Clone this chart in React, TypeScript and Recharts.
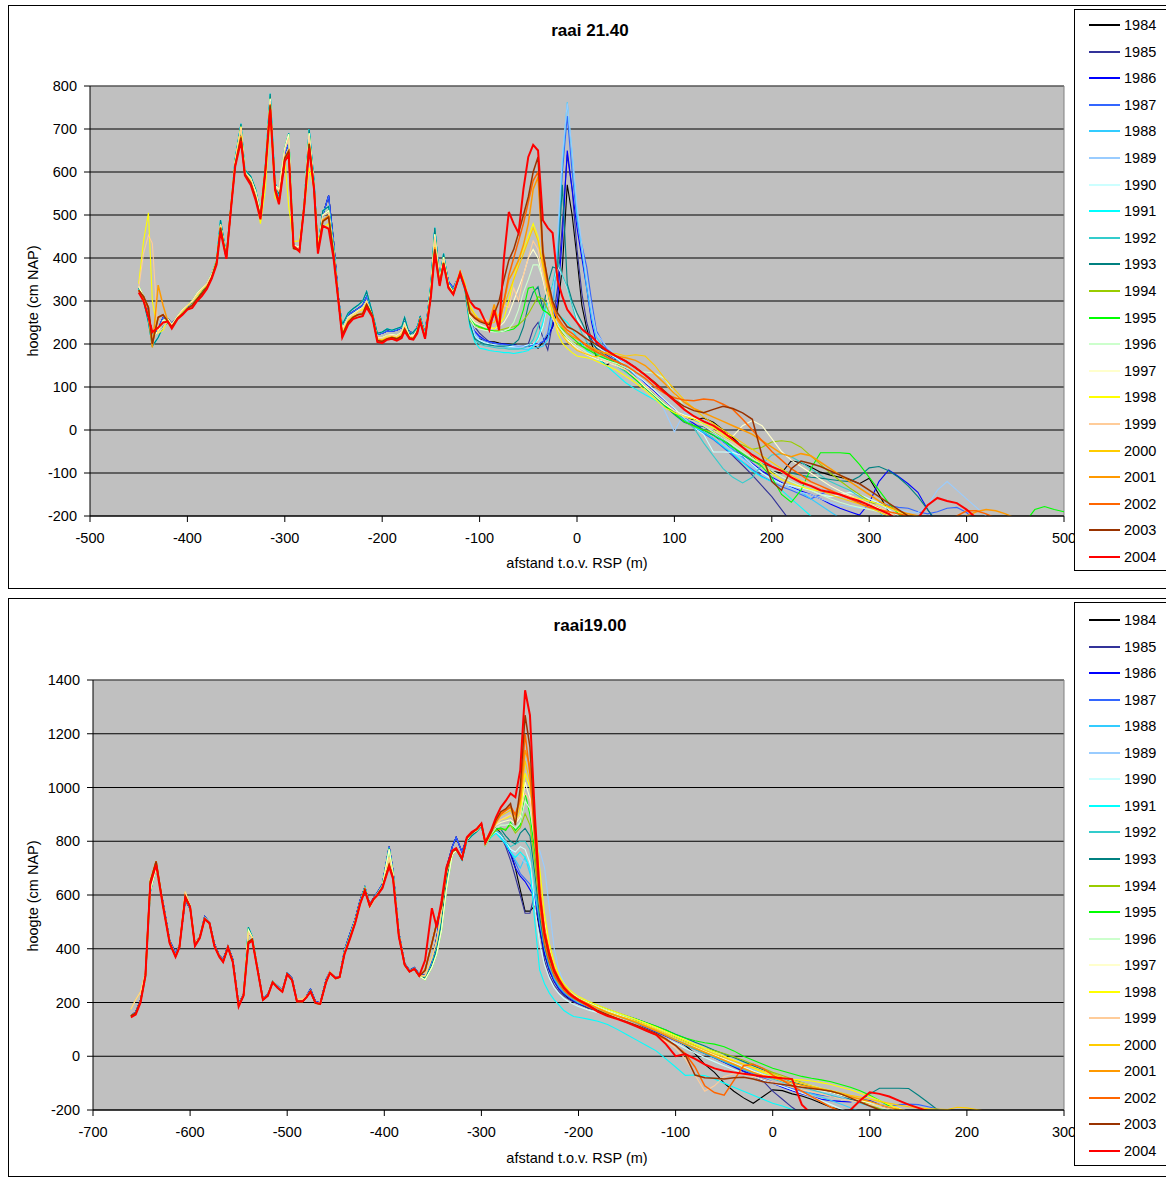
import React from 'react';
import { LineChart, Line, XAxis, YAxis, CartesianGrid, ReferenceLine } from 'recharts';

// Survey years and their line colours
const years = [1984, 1985, 1986, 1987, 1988, 1989, 1990, 1991, 1992, 1993, 1994, 1995, 1996, 1997, 1998, 1999, 2000, 2001, 2002, 2003, 2004];
const colors = ['#000000', '#333399', '#0000FF', '#3366FF', '#33CCFF', '#99CCFF', '#CCFFFF', '#00FFFF', '#33CCCC', '#008080', '#99CC00', '#00FF00', '#CCFFCC', '#FFFFCC', '#FFFF00', '#FFCC99', '#FFCC00', '#FF9900', '#FF6600', '#993300', '#FF0000'];

// ---------- raai 21.40 ----------
const topTicksX = [-500, -400, -300, -200, -100, 0, 100, 200, 300, 400, 500];
const topTicksY = [-200, -100, 0, 100, 200, 300, 400, 500, 600, 700, 800];

const topDuneX = [-450, -445, -440, -436, -430, -425, -420, -416, -410, -405, -400, -395, -390, -385, -380, -375, -370, -366, -360, -355, -351, -345, -341, -335, -330, -325, -320, -315, -310, -306, -300, -296, -291, -285, -280, -275, -270, -266, -261, -255, -250, -245, -241, -235, -230, -225, -220, -216, -210, -205, -200, -195, -190, -185, -180, -177, -172, -168, -164, -161, -156, -150, -146, -141, -137, -132, -127];
const topBeachX = [-120, -115, -110, -105, -100, -95, -90, -85, -80, -75, -70, -65, -60, -55, -50, -45, -40, -35, -30, -25, -20, -15, -10, -5, 0, 5, 10, 15, 20, 30, 40, 50, 60, 70, 80, 90, 100, 110, 120, 130, 140, 150, 160, 170, 180, 190, 200, 210, 220, 230, 240, 250, 260, 270, 280, 290, 300, 310, 320, 330, 340, 350, 360, 370, 380, 390, 400, 410, 420, 430, 440, 450, 460, 470, 480, 490, 500];

// dune part (shared by groups of years)
const topDuneA = [325, 310, 270, 222, 235, 262, 258, 248, 262, 272, 285, 290, 302, 318, 335, 360, 392, 480, 405, 528, 625, 700, 598, 578, 552, 500, 610, 770, 570, 540, 645, 665, 432, 418, 530, 690, 575, 420, 500, 545, 440, 310, 240, 268, 275, 282, 290, 310, 268, 222, 225, 230, 230, 232, 238, 250, 228, 226, 240, 262, 225, 335, 468, 350, 405, 345, 330];
const topDuneB = [330, 300, 250, 195, 215, 240, 250, 240, 262, 275, 290, 295, 305, 322, 338, 362, 395, 488, 408, 530, 630, 712, 605, 590, 560, 505, 615, 782, 575, 548, 655, 690, 425, 420, 528, 700, 580, 425, 510, 520, 430, 305, 245, 272, 282, 290, 300, 322, 272, 225, 228, 235, 232, 236, 240, 262, 222, 228, 238, 265, 220, 340, 470, 350, 410, 340, 325];
const topDuneC = [335, 310, 260, 215, 230, 255, 258, 245, 265, 280, 290, 300, 318, 330, 340, 362, 392, 478, 405, 530, 625, 705, 600, 585, 555, 505, 612, 770, 568, 560, 655, 688, 430, 425, 530, 690, 570, 420, 500, 510, 420, 300, 235, 262, 270, 278, 285, 300, 265, 215, 215, 220, 222, 220, 228, 248, 218, 220, 232, 258, 218, 330, 455, 345, 402, 338, 320];
const topDuneD = [340, 440, 505, 300, 225, 232, 255, 240, 262, 275, 288, 298, 312, 326, 338, 358, 395, 475, 402, 528, 620, 705, 598, 580, 545, 480, 560, 730, 540, 530, 630, 520, 438, 440, 515, 610, 560, 440, 470, 480, 410, 305, 228, 255, 265, 275, 280, 300, 262, 212, 210, 218, 218, 215, 225, 240, 215, 215, 228, 255, 215, 318, 440, 340, 395, 335, 318];
const topDuneP = [330, 411, 453, 434, 225, 238, 256, 244, 264, 278, 290, 298, 315, 328, 340, 360, 392, 478, 404, 530, 624, 704, 600, 583, 550, 500, 610, 765, 566, 555, 650, 680, 430, 422, 528, 685, 568, 420, 498, 505, 418, 302, 232, 260, 268, 276, 284, 300, 264, 214, 214, 219, 220, 218, 226, 245, 216, 218, 230, 256, 216, 326, 450, 342, 398, 336, 318];
const topDuneE = [325, 310, 285, 200, 262, 268, 252, 240, 260, 270, 282, 290, 305, 318, 332, 355, 390, 470, 400, 522, 615, 680, 595, 575, 540, 495, 605, 755, 562, 530, 632, 648, 422, 418, 522, 665, 562, 415, 485, 495, 410, 302, 220, 250, 262, 268, 270, 292, 265, 208, 206, 212, 215, 212, 218, 235, 214, 212, 228, 255, 214, 315, 420, 338, 388, 332, 316];
const topDuneO = [325, 305, 265, 192, 337, 290, 252, 240, 260, 270, 282, 290, 305, 318, 332, 355, 390, 472, 400, 524, 616, 684, 596, 576, 542, 496, 606, 758, 563, 532, 634, 650, 424, 418, 524, 668, 564, 416, 488, 498, 412, 303, 222, 252, 262, 268, 272, 292, 266, 210, 208, 213, 216, 213, 219, 236, 215, 213, 229, 256, 215, 316, 425, 340, 390, 333, 317];
const topDuneF = [320, 300, 262, 228, 238, 250, 252, 236, 258, 268, 280, 284, 300, 312, 328, 352, 385, 462, 398, 520, 612, 672, 592, 570, 535, 490, 600, 745, 558, 525, 625, 640, 428, 415, 520, 655, 560, 410, 475, 468, 400, 300, 215, 245, 258, 262, 265, 285, 262, 205, 202, 210, 212, 208, 214, 230, 212, 210, 225, 252, 212, 310, 410, 335, 385, 330, 315];

// foredune, beach and foreshore per year
const t1984 = [365, 330, 250, 215, 212, 208, 205, 205, 202, 200, 200, 198, 196, 195, 195, 198, 190, 205, 220, 240, 280, 380, 570, 500, 400, 290, 235, 200, 170, 150, 165, 148, 125, 105, 82, 62, 42, 28, 24, 28, 18, 0, -18, -40, -62, -80, -96, -100, -72, -76, -86, -98, -105, -110, -115, -125, -112, -150, -190, -230];
const t1985 = [360, 325, 245, 240, 225, 215, 205, 203, 200, 200, 198, 196, 195, 195, 200, 235, 250, 215, 186, 250, 330, 480, 640, 560, 420, 318, 250, 210, 190, 175, 160, 142, 122, 100, 80, 62, 45, 25, 10, -5, -20, -40, -60, -82, -105, -130, -155, -185, -215];
const t1986 = [360, 330, 250, 230, 218, 210, 205, 202, 200, 200, 198, 198, 196, 195, 196, 200, 200, 205, 215, 240, 300, 450, 650, 560, 470, 400, 330, 250, 200, 180, 165, 150, 130, 108, 88, 68, 48, 30, 15, 0, -12, -28, -45, -62, -78, -95, -110, -122, -133, -142, -150, -160, -172, -182, -190, -198, -170, -120, -93, -108, -125, -145, -185, -220];
const t1987 = [362, 332, 255, 225, 215, 208, 204, 202, 200, 198, 198, 196, 195, 194, 195, 198, 200, 205, 225, 290, 420, 600, 730, 600, 488, 430, 379, 300, 230, 190, 170, 150, 128, 106, 85, 65, 45, 22, 5, -8, -22, -40, -58, -75, -92, -108, -120, -132, -140, -150, -160, -150, -140, -150, -160, -168, -172, -168, -175, -180, -182, -190, -195, -190, -182, -180, -192, -215];
const t1988 = [368, 335, 255, 220, 205, 200, 198, 196, 195, 193, 192, 190, 190, 188, 188, 190, 192, 195, 210, 270, 420, 620, 762, 640, 500, 420, 330, 260, 215, 185, 165, 148, 126, 104, 84, 62, 40, 25, 20, 15, -5, -25, -45, -65, -85, -100, -115, -125, -135, -145, -160, -175, -190, -205];
const t1989 = [370, 338, 258, 225, 210, 205, 200, 198, 197, 195, 194, 192, 192, 190, 190, 195, 200, 215, 250, 310, 450, 640, 760, 650, 520, 430, 350, 280, 225, 195, 175, 152, 128, 105, 85, 45, -4, 40, 30, 15, -5, -30, -50, -68, -85, -100, -112, -125, -135, -145, -150, -160, -168, -175, -178, -182, -178, -175, -180, -185, -190, -192, -175, -140, -120, -140, -160, -180, -200, -220];
const t1990 = [365, 330, 250, 218, 208, 203, 200, 198, 196, 195, 194, 195, 196, 195, 198, 200, 210, 240, 300, 340, 380, 360, 330, 290, 260, 240, 220, 205, 195, 180, 168, 150, 130, 112, 92, 70, 50, 28, 5, -10, -51, -51, -52, -60, -80, -100, -115, -125, -130, -135, -140, -150, -155, -150, -145, -150, -160, -170, -185, -200, -215];
const t1991 = [360, 325, 240, 205, 190, 188, 185, 183, 182, 180, 180, 178, 180, 182, 185, 195, 215, 250, 300, 285, 270, 260, 250, 235, 215, 200, 185, 175, 168, 150, 130, 110, 95, 82, 70, 55, 38, 22, 8, -5, -20, -38, -55, -75, -95, -110, -120, -140, -160, -180, -200, -220];
const t1992 = [362, 328, 245, 210, 200, 196, 194, 192, 190, 190, 188, 188, 188, 190, 195, 210, 240, 270, 300, 340, 395, 360, 333, 290, 250, 225, 205, 190, 178, 165, 150, 135, 118, 100, 80, 62, 45, 25, 5, -30, -60, -90, -110, -123, -110, -80, -58, -55, -62, -75, -90, -105, -120, -130, -140, -155, -170, -190, -215];
const t1993 = [365, 330, 248, 212, 205, 200, 198, 196, 195, 195, 196, 200, 210, 240, 290, 320, 333, 280, 340, 379, 375, 570, 340, 300, 272, 250, 225, 205, 190, 170, 155, 138, 118, 98, 78, 56, 36, 18, 10, 8, -5, -20, -40, -58, -72, -80, -85, -95, -100, -105, -110, -112, -115, -118, -120, -108, -88, -85, -95, -110, -130, -155, -185, -215];
const t1994 = [365, 330, 255, 240, 238, 235, 232, 230, 232, 235, 238, 240, 245, 255, 270, 290, 310, 305, 280, 260, 240, 225, 212, 205, 200, 195, 190, 185, 180, 170, 158, 140, 120, 100, 80, 60, 40, 20, 8, 0, -5, -15, -25, -35, -45, -40, -28, -25, -28, -40, -60, -80, -100, -118, -135, -150, -165, -180, -195, -215];
const t1995 = [368, 335, 260, 245, 240, 236, 232, 230, 228, 230, 232, 235, 245, 280, 330, 333, 302, 279, 272, 260, 245, 235, 225, 215, 205, 195, 188, 182, 175, 165, 155, 138, 118, 98, 78, 58, 38, 20, 10, 0, -12, -25, -40, -55, -70, -85, -110, -150, -168, -140, -90, -53, -53, -53, -55, -80, -110, -140, -170, -195, -215, -215, -215, -215, -215, -215, -215, -215, -215, -215, -215, -215, -215, -185, -178, -185, -190];
const t1996 = [368, 335, 260, 240, 235, 232, 230, 228, 228, 230, 235, 250, 280, 320, 350, 384, 384, 350, 300, 270, 245, 230, 215, 205, 195, 188, 180, 175, 170, 162, 155, 145, 135, 135, 132, 120, 85, 55, 30, 10, -5, -20, -35, -50, -65, -80, -95, -108, -120, -130, -140, -150, -160, -168, -175, -180, -185, -190, -200, -212];
const t1997 = [370, 338, 265, 250, 245, 240, 238, 236, 240, 250, 270, 300, 330, 360, 400, 420, 400, 350, 300, 260, 235, 220, 210, 200, 190, 182, 175, 170, 165, 158, 150, 140, 122, 100, 80, 60, 45, 35, 28, 20, 10, -5, -15, 10, 22, 10, -20, -50, -70, -85, -100, -115, -130, -142, -152, -162, -172, -182, -192, -205];
const t1998 = [370, 340, 290, 270, 255, 248, 240, 235, 245, 260, 300, 350, 395, 420, 449, 480, 449, 380, 349, 272, 225, 202, 190, 180, 172, 170, 168, 165, 160, 150, 140, 125, 110, 92, 72, 52, 40, 32, 25, 15, 5, -10, -25, -40, -60, -80, -100, -115, -125, -132, -138, -142, -145, -150, -155, -160, -165, -172, -180, -190, -200, -212];
const t1999 = [368, 335, 270, 255, 250, 260, 250, 275, 250, 290, 285, 330, 300, 360, 400, 440, 420, 360, 300, 260, 235, 218, 205, 195, 188, 182, 178, 172, 168, 160, 152, 140, 122, 104, 85, 65, 45, 30, 20, 10, 0, -15, -30, -45, -60, -72, -85, -98, -108, -118, -125, -132, -140, -148, -155, -162, -170, -178, -190, -205];
const t2000 = [370, 340, 285, 268, 255, 250, 248, 250, 270, 290, 320, 350, 380, 410, 440, 470, 440, 380, 320, 270, 240, 220, 205, 195, 185, 180, 176, 172, 170, 180, 178, 172, 175, 172, 150, 120, 95, 70, 50, 30, 15, 0, -15, -30, -45, -60, -75, -90, -105, -118, -130, -140, -150, -158, -165, -172, -180, -190, -200, -212];
const t2001 = [368, 335, 275, 262, 258, 250, 250, 292, 240, 300, 349, 370, 395, 430, 480, 560, 588, 395, 333, 290, 256, 240, 225, 218, 212, 205, 198, 192, 186, 178, 172, 168, 162, 150, 130, 108, 85, 65, 50, 40, 30, 20, 10, 0, -10, -25, -40, -55, -62, -55, -60, -75, -90, -105, -120, -135, -150, -165, -178, -188, -195, -200, -205, -210, -215, -210, -200, -190, -185, -188, -195, -205];
const t2002 = [365, 332, 272, 262, 255, 250, 245, 275, 245, 300, 360, 400, 440, 480, 530, 580, 600, 420, 340, 290, 262, 245, 232, 225, 215, 205, 195, 188, 182, 170, 160, 150, 135, 120, 100, 85, 75, 70, 68, 72, 70, 60, 48, 25, 0, -25, -50, -70, -90, -105, -120, -130, -140, -150, -160, -170, -180, -185, -190, -195, -200, -205, -210, -212, -210, -200, -188, -188, -195, -205, -215];
const t2003 = [362, 330, 272, 260, 252, 248, 245, 270, 300, 350, 395, 420, 458, 500, 542, 600, 635, 411, 349, 300, 272, 256, 240, 235, 228, 220, 212, 205, 198, 185, 172, 160, 145, 128, 110, 90, 70, 55, 45, 40, 48, 55, 50, 40, 25, -60, -120, -140, -90, -72, -78, -85, -95, -105, -115, -125, -140, -155, -170, -185, -200, -215];
const t2004 = [365, 330, 300, 285, 280, 256, 232, 279, 232, 400, 507, 480, 458, 560, 635, 663, 650, 488, 470, 458, 349, 310, 280, 265, 250, 235, 225, 218, 205, 186, 172, 160, 145, 128, 108, 88, 68, 48, 32, 20, 10, -5, -22, -40, -58, -72, -85, -95, -110, -122, -130, -140, -145, -150, -158, -165, -175, -185, -195, -210, -215, -205, -175, -158, -165, -170, -185, -205, -215];

const topParts = [
  [topDuneA, t1984], [topDuneA, t1985], [topDuneA, t1986], [topDuneA, t1987],
  [topDuneB, t1988], [topDuneB, t1989], [topDuneB, t1990], [topDuneB, t1991], [topDuneB, t1992], [topDuneB, t1993],
  [topDuneC, t1994], [topDuneC, t1995], [topDuneC, t1996], [topDuneC, t1997],
  [topDuneD, t1998], [topDuneP, t1999],
  [topDuneE, t2000], [topDuneO, t2001], [topDuneE, t2002], [topDuneE, t2003],
  [topDuneF, t2004],
];

// ---------- raai19.00 ----------
const botTicksX = [-700, -600, -500, -400, -300, -200, -100, 0, 100, 200, 300];
const botTicksY = [-200, 0, 200, 400, 600, 800, 1000, 1200, 1400];

const botDuneX = [-661, -656, -651, -646, -641, -635, -628, -621, -615, -611, -605, -600, -595, -590, -585, -580, -575, -570, -566, -561, -556, -550, -545, -540, -536, -530, -525, -520, -515, -510, -505, -500, -495, -490, -484, -480, -476, -471, -466, -460, -456, -450, -446, -441, -435, -430, -425, -420, -415, -411, -407, -402, -395, -391, -385, -379, -374, -369, -364, -358, -351, -346, -341, -336, -330, -326, -320, -315, -310, -305, -300];
const botBeachX = [-296, -290, -285, -280, -275, -270, -265, -260, -255, -250, -245, -240, -235, -230, -225, -220, -215, -210, -205, -200, -190, -180, -170, -160, -150, -140, -130, -120, -110, -100, -90, -80, -70, -60, -50, -40, -30, -20, -10, 0, 10, 20, 30, 40, 50, 60, 70, 80, 90, 100, 110, 120, 130, 140, 150, 160, 170, 180, 190, 200, 210, 220, 230, 240, 250, 260, 270, 280, 290, 300];

const botDuneA = [150, 165, 210, 300, 620, 700, 575, 430, 385, 410, 580, 550, 420, 445, 520, 498, 420, 375, 360, 410, 360, 195, 230, 460, 440, 320, 215, 230, 278, 262, 245, 310, 290, 210, 210, 225, 250, 205, 198, 285, 315, 292, 298, 395, 460, 510, 580, 630, 565, 590, 610, 640, 780, 690, 460, 345, 320, 330, 305, 300, 350, 440, 560, 700, 780, 815, 760, 812, 828, 840, 860];
const botDuneB = [150, 160, 205, 290, 610, 705, 565, 425, 375, 408, 585, 552, 415, 442, 515, 495, 415, 372, 355, 408, 355, 190, 228, 480, 445, 315, 212, 228, 280, 258, 242, 308, 286, 206, 206, 222, 245, 200, 196, 280, 312, 290, 296, 390, 452, 505, 572, 628, 560, 586, 605, 635, 775, 685, 455, 342, 318, 328, 302, 290, 340, 400, 500, 660, 760, 770, 730, 800, 820, 835, 855];
const botDuneC = [148, 158, 205, 290, 615, 700, 568, 425, 372, 405, 590, 555, 412, 440, 512, 492, 412, 372, 352, 406, 352, 188, 226, 470, 442, 315, 210, 226, 276, 256, 242, 306, 284, 204, 204, 220, 242, 198, 194, 278, 310, 288, 294, 388, 448, 505, 570, 625, 560, 585, 605, 632, 770, 680, 455, 340, 315, 325, 298, 285, 330, 380, 470, 620, 750, 765, 740, 805, 830, 840, 860];
const botDuneD = [175, 210, 240, 310, 660, 720, 570, 425, 375, 410, 612, 560, 420, 445, 515, 498, 415, 372, 355, 408, 355, 190, 228, 460, 440, 318, 212, 228, 278, 258, 242, 305, 285, 212, 212, 225, 242, 200, 196, 278, 315, 292, 296, 385, 445, 500, 565, 620, 555, 580, 600, 628, 740, 670, 450, 340, 315, 325, 298, 300, 365, 430, 540, 680, 760, 772, 738, 810, 832, 842, 862];
const botDuneE = [150, 160, 205, 300, 650, 725, 565, 422, 372, 406, 595, 556, 412, 442, 512, 494, 412, 372, 352, 406, 352, 188, 226, 425, 435, 312, 210, 226, 276, 256, 240, 306, 284, 204, 204, 220, 242, 198, 194, 276, 310, 290, 294, 382, 445, 498, 568, 620, 560, 585, 602, 628, 712, 665, 448, 340, 315, 325, 298, 320, 420, 495, 560, 690, 762, 770, 735, 812, 830, 845, 865];
const botDuneF = [145, 155, 200, 300, 640, 712, 560, 420, 370, 405, 590, 555, 410, 440, 510, 495, 410, 370, 350, 405, 350, 185, 225, 420, 430, 310, 210, 225, 275, 255, 240, 305, 283, 205, 205, 220, 240, 200, 195, 275, 310, 290, 295, 380, 440, 495, 565, 615, 560, 585, 600, 625, 705, 660, 445, 340, 315, 325, 300, 357, 551, 480, 580, 703, 765, 774, 736, 815, 834, 845, 866];

const b1984 = [790, 830, 850, 830, 800, 760, 700, 620, 540, 540, 560, 470, 380, 320, 280, 250, 230, 215, 205, 195, 180, 170, 160, 148, 138, 125, 112, 98, 82, 62, 40, 10, -30, -60, -100, -130, -155, -175, -150, -125, -128, -140, -148, -160, -175, -190, -200, -215];
const b1985 = [790, 825, 840, 820, 780, 729, 666, 600, 532, 532, 606, 480, 357, 300, 265, 240, 224, 212, 202, 194, 180, 168, 156, 144, 132, 120, 106, 92, 76, 60, 44, 28, 12, -5, -22, -40, -58, -75, -92, -130, -160, -190, -215];
const b1986 = [790, 822, 832, 815, 790, 750, 700, 670, 650, 620, 590, 480, 380, 320, 278, 250, 232, 218, 206, 196, 183, 170, 158, 146, 134, 120, 106, 90, 74, 58, 42, 26, 10, -6, -22, -38, -55, -70, -85, -100, -115, -128, -140, -150, -160, -165, -168, -170, -160, -165, -180, -195, -210];
const b1987 = [790, 822, 835, 820, 795, 760, 720, 680, 660, 640, 600, 500, 400, 330, 285, 255, 235, 220, 208, 198, 185, 172, 160, 148, 136, 122, 108, 92, 76, 60, 44, 28, 12, -5, -20, -35, -50, -65, -80, -95, -108, -120, -130, -138, -145, -150, -155, -160, -165, -172, -180, -185, -180, -178, -180, -188, -196, -205];
const b1988 = [790, 820, 830, 815, 790, 760, 730, 700, 740, 680, 600, 520, 420, 340, 290, 260, 240, 225, 212, 200, 186, 174, 162, 150, 138, 124, 110, 95, 80, 64, 48, 32, 16, 0, -15, -28, -40, -52, -65, -80, -95, -110, -125, -140, -152, -165, -178, -192, -205];
const b1989 = [790, 820, 835, 820, 800, 770, 750, 740, 720, 720, 740, 766, 703, 550, 400, 320, 275, 248, 230, 215, 198, 184, 170, 158, 145, 130, 115, 100, 84, 68, 52, 36, 20, 5, -10, -25, -40, -52, -65, -78, -90, -100, -110, -120, -130, -140, -152, -165, -178, -185, -182, -190, -196, -205];
const b1990 = [790, 820, 835, 820, 800, 770, 760, 780, 770, 720, 560, 420, 340, 290, 255, 232, 215, 203, 193, 185, 172, 162, 150, 138, 125, 112, 98, 82, 65, 48, 30, 12, -5, -20, -35, -50, -62, -75, -88, -100, -112, -125, -138, -150, -165, -180, -195, -210];
const b1991 = [785, 815, 830, 810, 790, 760, 740, 760, 740, 700, 500, 320, 270, 235, 210, 190, 170, 158, 148, 145, 138, 130, 118, 100, 80, 60, 40, 20, -10, -40, -71, -70, -72, -85, -100, -115, -130, -145, -160, -175, -185, -198, -210];
const b1992 = [790, 825, 840, 830, 800, 780, 790, 800, 800, 770, 640, 500, 400, 335, 292, 262, 240, 225, 212, 200, 185, 172, 160, 148, 136, 124, 110, 95, 78, 60, 42, 25, 10, -5, -20, -35, -50, -62, -75, -85, -95, -105, -115, -125, -135, -145, -155, -165, -175, -185, -195, -205];
const b1993 = [795, 830, 850, 845, 820, 800, 790, 830, 848, 820, 680, 520, 410, 345, 300, 272, 250, 235, 222, 210, 200, 188, 175, 162, 150, 138, 125, 112, 98, 82, 68, 52, 38, 22, 8, -5, -20, -35, -50, -65, -80, -95, -105, -115, -125, -135, -145, -160, -165, -140, -119, -119, -119, -120, -145, -172, -200, -215];
const b1994 = [785, 820, 840, 845, 845, 860, 830, 850, 903, 860, 720, 560, 440, 365, 312, 280, 256, 238, 224, 212, 197, 182, 168, 156, 144, 132, 118, 104, 88, 72, 56, 42, 30, 20, 10, -2, -15, -30, -45, -60, -72, -85, -98, -108, -118, -128, -140, -152, -165, -180, -195, -210];
const b1995 = [785, 825, 845, 850, 840, 870, 840, 860, 978, 900, 760, 580, 450, 370, 315, 282, 258, 240, 226, 215, 200, 185, 172, 160, 148, 138, 125, 112, 98, 80, 68, 58, 50, 45, 35, 20, 0, -15, -30, -45, -55, -65, -75, -82, -88, -95, -105, -115, -128, -145, -165, -185, -205];
const b1996 = [785, 825, 850, 860, 860, 865, 850, 870, 950, 920, 800, 620, 480, 390, 330, 290, 262, 243, 228, 215, 200, 186, 172, 160, 148, 136, 122, 106, 90, 75, 60, 45, 30, 15, 0, -15, -30, -42, -55, -68, -80, -92, -100, -108, -118, -128, -138, -150, -162, -175, -188, -200, -212];
const b1997 = [790, 835, 860, 870, 875, 880, 865, 890, 1020, 960, 820, 640, 500, 400, 335, 292, 262, 243, 228, 215, 198, 182, 168, 155, 142, 128, 115, 100, 85, 68, 52, 36, 20, 5, -10, -25, -40, -55, -68, -80, -92, -102, -112, -120, -128, -135, -145, -155, -165, -172, -180, -188, -195, -205];
const b1998 = [800, 840, 865, 880, 885, 895, 880, 905, 1053, 1000, 880, 700, 530, 420, 350, 300, 270, 250, 235, 222, 205, 190, 176, 163, 150, 136, 122, 108, 92, 76, 60, 45, 30, 15, 0, -15, -30, -45, -60, -72, -80, -86, -88, -92, -98, -105, -115, -125, -138, -150, -165, -180, -195, -210];
const b1999 = [790, 830, 860, 880, 890, 900, 870, 900, 980, 950, 800, 600, 455, 375, 318, 280, 255, 236, 220, 208, 190, 172, 158, 145, 132, 118, 100, 80, 55, 30, -10, -70, -130, -110, -75, -65, -68, -75, -85, -95, -105, -115, -125, -132, -140, -150, -158, -165, -172, -180, -188, -195, -205];
const b2000 = [800, 835, 870, 895, 905, 915, 880, 930, 1100, 1020, 850, 620, 470, 385, 325, 285, 258, 240, 225, 213, 196, 180, 165, 152, 140, 128, 114, 100, 85, 68, 52, 38, 22, 8, -5, -18, -30, -42, -55, -65, -78, -90, -100, -110, -120, -128, -136, -145, -152, -160, -168, -175, -182, -188, -192, -195, -196, -198, -190, -192, -198, -205];
const b2001 = [800, 840, 875, 905, 915, 925, 895, 950, 1139, 1080, 880, 640, 480, 390, 330, 290, 262, 242, 225, 212, 195, 178, 162, 150, 138, 125, 110, 95, 78, 60, 45, 30, 15, 0, -15, -30, -45, -60, -72, -80, -90, -100, -108, -115, -122, -130, -140, -150, -160, -168, -180, -190, -198, -205];
const b2002 = [790, 830, 870, 900, 915, 930, 900, 960, 1200, 1050, 800, 560, 420, 350, 300, 270, 245, 228, 215, 205, 185, 168, 152, 140, 125, 112, 95, 80, 62, 40, 10, -40, -110, -135, -145, -90, -35, -30, -45, -70, -90, -110, -130, -150, -170, -190, -205];
const b2003 = [795, 835, 880, 910, 920, 940, 860, 1000, 1269, 1150, 850, 600, 450, 370, 315, 280, 255, 235, 220, 208, 190, 170, 155, 140, 128, 115, 100, 85, 65, 40, 5, -70, -80, -82, -85, -80, -78, -85, -95, -100, -105, -110, -115, -120, -125, -130, -140, -155, -170, -185, -200, -215];
const b2004 = [795, 841, 889, 926, 950, 978, 964, 1064, 1362, 1269, 900, 606, 460, 380, 320, 285, 255, 235, 222, 210, 190, 165, 150, 138, 125, 110, 95, 80, 45, 0, 8, -10, -30, -45, -55, -60, -65, -70, -75, -78, -82, -85, -180, -215, -215, -215, -215, -200, -165, -134, -140, -150, -165, -180, -192, -205];

const botParts = [
  [botDuneA, b1984], [botDuneA, b1985], [botDuneA, b1986], [botDuneA, b1987],
  [botDuneB, b1988], [botDuneB, b1989], [botDuneB, b1990], [botDuneB, b1991], [botDuneB, b1992], [botDuneB, b1993],
  [botDuneC, b1994], [botDuneC, b1995], [botDuneC, b1996], [botDuneC, b1997],
  [botDuneD, b1998], [botDuneD, b1999],
  [botDuneE, b2000], [botDuneE, b2001], [botDuneE, b2002], [botDuneE, b2003],
  [botDuneF, b2004],
];

const FONT = '"Liberation Sans", Arial, Helvetica, sans-serif';
const tickStyle = { fill: '#000', fontSize: 14.5, fontFamily: FONT };

function toPoints(xs: number[], parts: number[][]) {
  const ys = parts.flat();
  return ys.map((y, i) => ({ x: xs[i], y }));
}

function lineWidth(year: number) {
  if (year === 2004) return 2;
  if (year >= 2001) return 1.5;
  return 1.1;
}

type PanelProps = {
  top: number;
  height: number;
  title: string;
  xs: number[];
  parts: number[][][];
  xDomain: [number, number];
  xTicks: number[];
  yDomain: [number, number];
  yTicks: number[];
  margin: { top: number; right: number; bottom: number; left: number };
  titleY: number;
  xLabelY: number;
  yLabelY: number;
  legendTop: number;
  legendHeight: number;
  legendFirst: number;
  legendStep: number;
};

function Panel(p: PanelProps) {
  const series = p.parts.map((parts, i) => ({ year: years[i], color: colors[i], data: toPoints(p.xs, parts) }));
  return (
    <>
      <div style={{ position: 'absolute', left: 8, top: p.top, width: 1200, height: p.height, boxSizing: 'border-box', border: '1px solid #000' }} />
      <div style={{ position: 'absolute', left: 0, top: p.top, width: 1166, height: p.height }}>
        <LineChart width={1166} height={p.height} margin={p.margin}>
          <CartesianGrid vertical={false} stroke="#000" fill="#C0C0C0" fillOpacity={1} />
          <XAxis type="number" dataKey="x" domain={p.xDomain} ticks={p.xTicks} interval={0} allowDataOverflow
            tick={tickStyle} tickSize={6} tickMargin={11} height={30}
            axisLine={{ stroke: '#000' }} tickLine={{ stroke: '#000' }} />
          <YAxis type="number" domain={p.yDomain} ticks={p.yTicks} interval={0} allowDataOverflow
            tick={tickStyle} tickSize={6} tickMargin={7} width={60}
            axisLine={{ stroke: '#000' }} tickLine={{ stroke: '#000' }} />
          <ReferenceLine y={p.yDomain[1]} stroke="#808080" />
          <ReferenceLine x={p.xDomain[1]} stroke="#808080" />
          {series.map((s) => (
            <Line key={s.year} name={String(s.year)} data={s.data} dataKey="y" type="linear"
              stroke={s.color} strokeWidth={lineWidth(s.year)} dot={false} activeDot={false}
              isAnimationActive={false} />
          ))}
        </LineChart>
      </div>
      <div style={{ position: 'absolute', left: 590, top: p.titleY - 12, height: 24, lineHeight: '24px', transform: 'translateX(-50%)', whiteSpace: 'nowrap', fontFamily: FONT, fontSize: 17, fontWeight: 'bold', color: '#000' }}>{p.title}</div>
      <div style={{ position: 'absolute', left: 577, top: p.xLabelY - 10, height: 20, lineHeight: '20px', transform: 'translateX(-50%)', whiteSpace: 'nowrap', fontFamily: FONT, fontSize: 14.5, color: '#000' }}>afstand t.o.v. RSP (m)</div>
      <div style={{ position: 'absolute', left: 33, top: p.yLabelY, width: 0, height: 0 }}>
        <div style={{ position: 'absolute', left: 0, top: 0, transform: 'translate(-50%, -50%) rotate(-90deg)', whiteSpace: 'nowrap', lineHeight: '20px', fontFamily: FONT, fontSize: 14.5, color: '#000' }}>hoogte (cm NAP)</div>
      </div>
      <div style={{ position: 'absolute', left: 1074, top: p.legendTop, width: 120, height: p.legendHeight, boxSizing: 'border-box', border: '1px solid #000', background: '#fff' }}>
        {series.map((s, i) => (
          <div key={s.year} style={{ position: 'absolute', left: 0, top: Math.round(p.legendFirst + i * p.legendStep) - 10, height: 20, width: 120 }}>
            <div style={{ position: 'absolute', left: 14, top: 9, width: 31, height: s.year === 2004 ? 2 : 1.5, background: s.color }} />
            <div style={{ position: 'absolute', left: 49, top: 0, height: 20, lineHeight: '20px', fontFamily: FONT, fontSize: 14.5, color: '#000' }}>{s.year}</div>
          </div>
        ))}
      </div>
    </>
  );
}

export default function App() {
  return (
    <div style={{ position: 'absolute', left: 0, top: 0, width: 1166, height: 1177, overflow: 'hidden', background: '#fff' }}>
      <Panel
        top={5} height={584} title="raai 21.40"
        xs={[...topDuneX, ...topBeachX]} parts={topParts}
        xDomain={[-500, 500]} xTicks={topTicksX} yDomain={[-200, 800]} yTicks={topTicksY}
        margin={{ top: 81, right: 102, bottom: 43, left: 30 }}
        titleY={31} xLabelY={563} yLabelY={301}
        legendTop={9} legendHeight={562} legendFirst={15} legendStep={26.6}
      />
      <Panel
        top={598} height={579} title="raai19.00"
        xs={[...botDuneX, ...botBeachX]} parts={botParts}
        xDomain={[-700, 300]} xTicks={botTicksX} yDomain={[-200, 1400]} yTicks={botTicksY}
        margin={{ top: 82, right: 102, bottom: 37, left: 33 }}
        titleY={626} xLabelY={1158} yLabelY={896}
        legendTop={602} legendHeight={564} legendFirst={17} legendStep={26.55}
      />
    </div>
  );
}
